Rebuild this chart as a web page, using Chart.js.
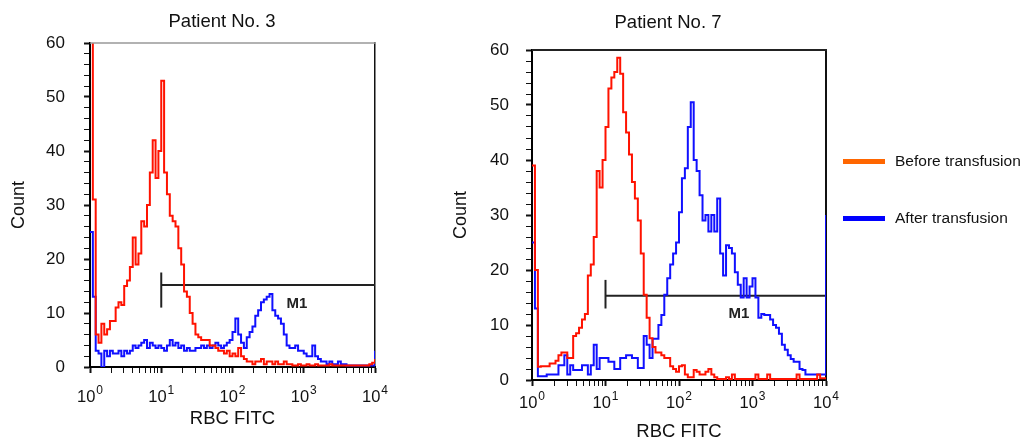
<!DOCTYPE html>
<html>
<head>
<meta charset="utf-8">
<script src="https://cdn.jsdelivr.net/npm/chart.js@4.4.1/dist/chart.umd.min.js"></script>
<style>
  html, body { margin: 0; padding: 0; background: #fff; overflow: hidden; width: 1024px; height: 441px; }
  canvas { position: absolute; top: 0; }
  #c3 { left: 0; }
  #c7 { left: 440px; }
  #legend { position: absolute; left: 0; top: 0; font-family: 'Liberation Sans', Arial, Helvetica, sans-serif; color: #111; }
  .item { position: absolute; height: 20px; display: flex; align-items: center; white-space: nowrap; font-size: 15.5px; }
  .bar { width: 42px; height: 5px; margin-right: 10px; }
</style>
</head>
<body>
<canvas id="c3" width="444" height="460" style="width:444px;height:460px"></canvas>
<canvas id="c7" width="456" height="460" style="width:456px;height:460px"></canvas>
<div id="legend"></div>
<script>
// ---------------- data ----------------
const channelsPerDecade = 25;               // histogram channels per log decade (0.04 decade bins)
const xTickBase = '10';
const xTickExponents = ['0', '1', '2', '3', '4'];
const seriesNames = ['Before transfusion', 'After transfusion'];
const legendColors = ['#ff6600', '#0000ff'];
const chartTitles = ['Patient No. 3', 'Patient No. 7'];
const xAxisTitle = 'RBC FITC';
const yAxisTitle = 'Count';
const markerName = 'M1';

// Patient No. 3 (counts per channel, channel i at 10^(i/25))
const beforeP3 = [75, 31, 6, 4.5, 8, 6, 7, 8.5, 8.5, 11,
  12, 11.5, 15, 16, 18.5, 24, 19, 21, 27, 26,
  30, 36, 42, 35, 40, 53, 36, 32, 28, 27,
  26, 22, 19, 14, 13, 10, 8, 6, 5.5, 5,
  5, 5, 4, 4, 3.5, 3, 3, 2.5, 3, 2,
  2.5, 2, 3.5, 2, 1.5, 1, 1, 0.5, 1, 1,
  1.5, 0.5, 1, 1, 0.5, 1, 0.5, 0.5, 1, 0.5,
  0.5, 0.3, 0.3, 0.5, 0.3, 0.3, 0.5, 0.3, 0.3, 0.5,
  0.3, 0.3, 0.3, 0.3, 0.5, 0.3, 0.3, 0.3, 0.3, 0.3,
  0.3, 0.3, 0.3, 0.3, 0.3, 0.3, 0.3, 0.3, 0.5, 0.8, 1.5];
const afterP3 = [25, 13, 3, 2.5, 0, 3, 2, 3, 2.5, 2.5,
  3, 2, 3, 2.5, 3, 4, 3.5, 4, 4.5, 5,
  3.5, 4.5, 4, 3.5, 4, 3.5, 3, 4, 5, 4,
  4.5, 3.5, 4, 3, 3.5, 3, 3, 3.5, 3.5, 4,
  3.5, 4, 3.5, 4, 4.5, 4, 3.5, 4, 4.5, 5,
  6.5, 9, 6, 4.5, 3.5, 5.5, 6.5, 7.5, 9.5, 10.5,
  12, 12.5, 13, 13.5, 10.5, 9.5, 9, 8, 6, 4,
  3.5, 3.5, 4, 3, 3, 2.5, 2, 2, 4, 2,
  1.5, 1, 1, 0.5, 1, 0.5, 0.5, 1, 0.5, 0.5,
  0.3, 0.3, 0.3, 0.3, 0.3, 0.3, 0.3, 0.3, 0.3, 0.3, 3];

// Patient No. 7
const beforeP7 = [39, 20, 2.4, 2.5, 2.5, 2.5, 3, 3, 3.5, 4.5,
  5, 5, 4, 4, 8, 8.5, 9.5, 11, 12, 19,
  21, 26, 38, 35, 40, 46, 53, 55, 56, 58.6,
  55.7, 48.7, 45, 41, 36, 33, 29, 23, 15.5, 11.3,
  7.6, 6, 5, 5, 4.5, 4, 4, 2.5, 2, 1.5,
  2.5, 2.7, 1, 0.5, 0.5, 1.8, 1.5, 1, 1, 1.5,
  2, 1, 0.5, 0.2, 0.2, 0.2, 0.5, 0.2, 1, 0.2,
  0.2, 0.2, 0.2, 0.2, 0.2, 0.2, 1, 0.2, 0.2, 0.2,
  1, 0.2, 0.2, 0.2, 0.2, 0.2, 0.2, 0.2, 0.2, 0.2,
  1, 0.2, 0.2, 0.2, 0.2, 0.2, 0.2, 1, 0.3, 0.3, 0.5];
const afterP7 = [25, 13, 0.7, 0.7, 0.7, 1, 1, 1, 1, 2.7,
  2.7, 4.5, 1, 2.7, 1.8, 1.8, 1.8, 2.7, 2.7, 1,
  2.7, 6.4, 2, 4, 4, 4, 3.3, 3.3, 2, 2,
  4, 4, 4.5, 4.5, 4, 4, 2.2, 2.2, 8, 6.4,
  4, 7.5, 7.5, 10, 11.8, 15.5, 18.5, 21, 23, 25,
  30.5, 36.7, 38.5, 46, 50.5, 40, 38, 33.6, 29, 30,
  27, 30, 27, 33, 23, 19, 24.5, 24, 23, 19.6,
  17.3, 15, 18.5, 15, 17, 18.5, 15, 11.3, 12, 11.8,
  11.8, 11, 10, 9.5, 8.4, 6.4, 5.5, 4.5, 3.8, 3.3,
  3.3, 2, 1.8, 1, 1, 1, 1, 1, 1, 1, 30];

// M1 gate: [start, end, level], tick range [low, high], label anchor [x, y]
const m1GateP3 = [10, 10000, 15.2];
const m1TickP3 = [11, 17.5];
const m1LabelP3 = [804, 11.7];
const m1GateP7 = [10, 10000, 15.3];
const m1TickP7 = [13, 18.2];
const m1LabelP7 = [655, 12];

// ---------------- drawing ----------------
const FONT = "'Liberation Sans', Arial, Helvetica, sans-serif";
Chart.defaults.font.family = FONT;
Chart.defaults.color = '#111';

function toPoints(counts) {
  return counts.map((y, i) => ({ x: Math.pow(10, i / channelsPerDecade), y: y }));
}

// top edge of the plot frame (right edge is the right-hand axis border)
const frameTopPlugin = {
  id: 'frameTop',
  afterDraw(chart, args, opts) {
    const { ctx, chartArea: { left, right, top } } = chart;
    ctx.save();
    ctx.strokeStyle = opts.color; ctx.lineWidth = opts.width;
    ctx.beginPath(); ctx.moveTo(left, top); ctx.lineTo(right + 1, top); ctx.stroke();
    ctx.restore();
  }
};

// "10" with a raised exponent at every decade tick of the x scale
const decadeLabelPlugin = {
  id: 'decadeLabels',
  afterDraw(chart, args, opts) {
    const { ctx, scales: { x } } = chart;
    const baseY = x.top + opts.baseline;
    ctx.save();
    ctx.fillStyle = '#111';
    ctx.textBaseline = 'alphabetic';
    ctx.textAlign = 'left';
    xTickExponents.forEach((ex, e) => {
      const px = x.getPixelForValue(Math.pow(10, e));
      ctx.font = opts.baseSize + 'px ' + FONT;
      const wb = ctx.measureText(xTickBase).width;
      ctx.font = opts.expSize + 'px ' + FONT;
      const we = ctx.measureText(ex).width;
      const start = px - (wb + we + 1) / 2;
      ctx.font = opts.baseSize + 'px ' + FONT;
      ctx.fillText(xTickBase, start, baseY);
      ctx.font = opts.expSize + 'px ' + FONT;
      ctx.fillText(ex, start + wb + 1, baseY - opts.raise);
    });
    ctx.restore();
  }
};

const markerLabelPlugin = {
  id: 'markerLabel',
  afterDatasetsDraw(chart, args, opts) {
    const { ctx, scales: { x, y } } = chart;
    ctx.save();
    ctx.font = 'bold 15px ' + FONT;
    ctx.fillStyle = '#222';
    ctx.textAlign = 'center';
    ctx.textBaseline = 'middle';
    ctx.fillText(opts.text, x.getPixelForValue(opts.at[0]), y.getPixelForValue(opts.at[1]));
    ctx.restore();
  }
};

const htmlLegendPlugin = {
  id: 'htmlLegend',
  afterUpdate(chart, args, opts) {
    const box = document.getElementById(opts.containerID);
    box.innerHTML = '';
    chart.data.datasets.filter(d => d.legendColor).forEach((d, k) => {
      const item = document.createElement('div');
      item.className = 'item';
      item.style.left = opts.left + 'px';
      item.style.top = (opts.tops[k] - 10) + 'px';
      const bar = document.createElement('span');
      bar.className = 'bar';
      bar.style.background = d.legendColor;
      const txt = document.createElement('span');
      txt.textContent = d.label;
      item.appendChild(bar); item.appendChild(txt);
      box.appendChild(item);
    });
  }
};

function makeChart(id, c) {
  const plugins = [frameTopPlugin, decadeLabelPlugin, markerLabelPlugin];
  if (c.legend) plugins.push(htmlLegendPlugin);
  return new Chart(document.getElementById(id), {
    type: 'line',
    data: {
      datasets: [
        { label: seriesNames[0], data: toPoints(c.before), legendColor: legendColors[0],
          borderColor: '#ff1200', borderWidth: 2, stepped: true, pointRadius: 0, fill: false },
        { label: seriesNames[1], data: toPoints(c.after), legendColor: legendColors[1],
          borderColor: '#1010ff', borderWidth: 2, stepped: true, pointRadius: 0, fill: false },
        { label: markerName, data: [{ x: c.gate[0], y: c.gate[2] }, { x: c.gate[1], y: c.gate[2] }],
          borderColor: '#222', borderWidth: 2, pointRadius: 0, fill: false },
        { label: markerName + ' start', data: [{ x: c.gate[0], y: c.tick[0] }, { x: c.gate[0], y: c.tick[1] }],
          borderColor: '#222', borderWidth: 2, pointRadius: 0, fill: false }
      ]
    },
    options: {
      responsive: false,
      animation: false,
      events: [],
      layout: { padding: 0 },
      plugins: {
        legend: { display: false },
        tooltip: { enabled: false },
        title: { display: true, text: c.title, color: '#111',
          font: { size: 18.5, weight: 'normal', family: FONT },
          padding: { top: c.titlePadTop, bottom: c.titlePadBottom } },
        frameTop: c.frameTop,
        decadeLabels: c.decade,
        markerLabel: { text: markerName, at: c.label },
        htmlLegend: c.legend || {}
      },
      scales: {
        x: {
          type: 'logarithmic', min: 1, max: 10000,
          afterFit: s => { s.height = c.xAxisH; },
          afterBuildTicks: s => {
            const t = [];
            for (let e = 0; e < 4; e++) for (let m = 1; m < 10; m++) t.push({ value: m * Math.pow(10, e), major: m === 1 });
            t.push({ value: 10000, major: true });
            s.ticks = t;
          },
          ticks: { autoSkip: false, maxRotation: 0, minRotation: 0, callback: () => '' },
          grid: { display: true, drawOnChartArea: false, drawTicks: true, tickLength: 6, tickColor: '#111',
            tickWidth: ctx => (ctx.tick && ctx.tick.major ? 2 : 1) },
          border: { display: true, color: '#000', width: 2 },
          title: { display: true, text: xAxisTitle, color: '#111', font: { size: 18.5, family: FONT },
            padding: { top: 0, bottom: c.xTitlePad } }
        },
        y: {
          min: 0, max: 60,
          afterFit: s => { s.width = c.yAxisW; },
          ticks: { stepSize: 2, autoSkip: false, padding: c.yTickPad, color: '#111',
            font: { size: 17, family: FONT },
            callback: v => (v % 10 === 0 ? String(v) : '') },
          grid: { display: true, drawOnChartArea: false, drawTicks: true, tickLength: 6, tickColor: '#111',
            tickWidth: ctx => (ctx.tick && ctx.tick.value % 10 === 0 ? 2 : 1) },
          border: { display: true, color: '#000', width: 2 },
          title: { display: true, text: yAxisTitle, color: '#111', font: { size: 18, family: FONT },
            padding: { top: c.yTitlePad, bottom: 0 } }
        },
        frameRight: {
          type: 'linear', position: 'right', min: 0, max: 60,
          afterFit: s => { s.width = c.rightW; },
          ticks: { display: false },
          grid: { display: false },
          border: { display: true, color: '#111', width: c.rightBorder }
        }
      }
    },
    plugins: plugins
  });
}

makeChart('c3', {
  title: chartTitles[0], before: beforeP3, after: afterP3,
  gate: m1GateP3, tick: m1TickP3, label: m1LabelP3,
  rightW: 69, rightBorder: 1.5, titlePadTop: 10.9, titlePadBottom: 9.9,
  xAxisH: 93, xTitlePad: 29.9,
  yAxisW: 90, yTickPad: 19, yTitlePad: 7.9,
  frameTop: { color: '#999', width: 1.5 },
  decade: { baseline: 35, raise: 8, baseSize: 16.5, expSize: 12 }
});

makeChart('c7', {
  title: chartTitles[1], before: beforeP7, after: afterP7,
  gate: m1GateP7, tick: m1TickP7, label: m1LabelP7,
  rightW: 70, rightBorder: 2, titlePadTop: 11.9, titlePadBottom: 15.9,
  xAxisH: 80, xTitlePad: 16.9,
  yAxisW: 92, yTickPad: 17, yTitlePad: 9.9,
  frameTop: { color: '#222', width: 2 },
  decade: { baseline: 28, raise: 8, baseSize: 16.5, expSize: 12 },
  legend: { containerID: 'legend', left: 843, tops: [161, 218] }
});
</script>
</body>
</html>
